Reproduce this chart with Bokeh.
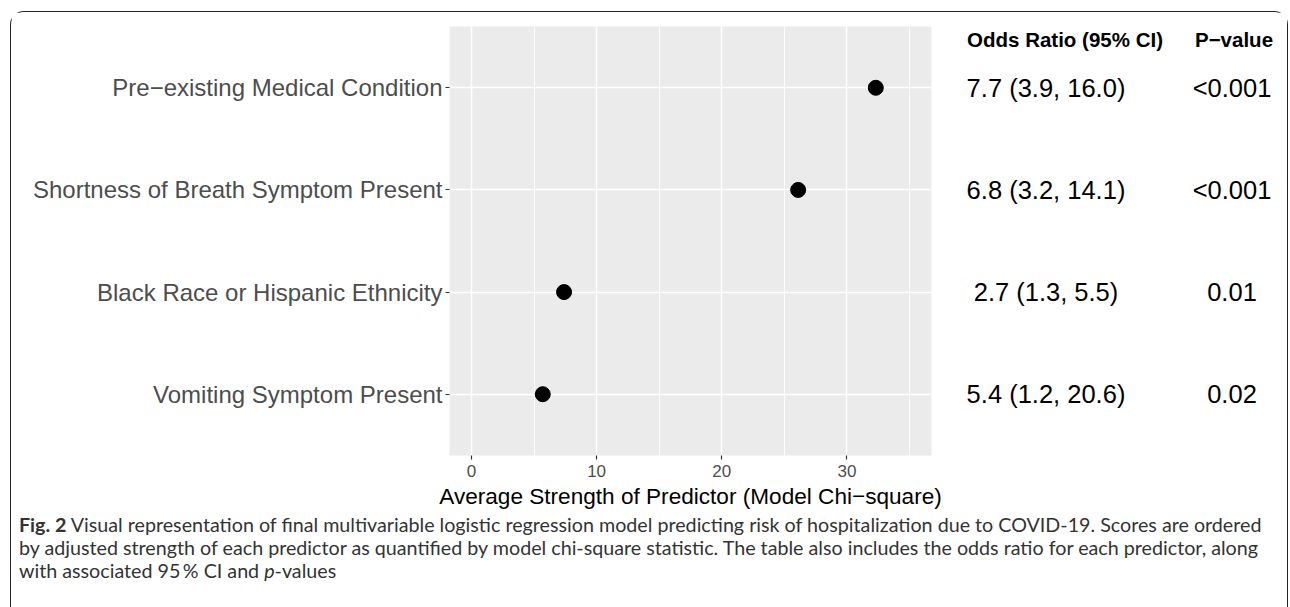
from bokeh.plotting import figure
from bokeh.models import (ColumnDataSource, FactorRange, Range1d, SingleIntervalTicker, Div)
from bokeh.layouts import column, row
from bokeh.core.properties import value
from bokeh.embed import file_html
from bokeh.resources import INLINE

# ---- data ----
predictors = ["Pre\u2212existing Medical Condition",
              "Shortness of Breath Symptom Present",
              "Black Race or Hispanic Ethnicity",
              "Vomiting Symptom Present"]
chi_square = [32.3, 26.1, 7.4, 5.7]
odds_ratio = ["7.7 (3.9, 16.0)", "6.8 (3.2, 14.1)", "2.7 (1.3, 5.5)", "5.4 (1.2, 20.6)"]
p_values = ["<0.001", "<0.001", "0.01", "0.02"]
x_ticks = [0, 10, 20, 30]
table_headers = ["Odds Ratio (95% CI)", "P\u2212value"]

# ---- layout constants (content coords; content origin at page (11.5, 12.5)) ----
OX, OY = 11.5, 12.5
W = 1276
H_TOP = 500
MAIN_W = 950
FL, FW = 438, 482
FT, FH = 14, 429

src = ColumnDataSource(dict(pred=predictors, chi=chi_square, orr=odds_ratio, pv=p_values))
yr = FactorRange(factors=predictors[::-1], range_padding=0.1, range_padding_units="absolute")

p = figure(width=MAIN_W, height=H_TOP, output_backend="svg", toolbar_location=None,
           y_range=yr, x_range=Range1d(-1.75, 36.75),
           min_border_left=FL, min_border_right=MAIN_W - FL - FW,
           min_border_top=FT, min_border_bottom=H_TOP - FT - FH)
p.background_fill_color = "#EBEBEB"
p.border_fill_color = "white"
p.outline_line_color = None

p.xgrid.ticker = SingleIntervalTicker(interval=10, num_minor_ticks=2)
p.xgrid.grid_line_color = "white"
p.xgrid.grid_line_width = 1.5
p.xgrid.minor_grid_line_color = "white"
p.xgrid.minor_grid_line_width = 0.9
p.ygrid.grid_line_color = "white"
p.ygrid.grid_line_width = 1.5

p.xaxis.ticker = x_ticks
p.xaxis.axis_line_color = None
p.yaxis.axis_line_color = None
for ax in (p.xaxis[0], p.yaxis[0]):
    ax.major_tick_line_color = "#333333"
    ax.major_tick_line_width = 1.2
    ax.major_tick_in = 0
    ax.major_tick_out = 4
    ax.minor_tick_line_color = None
    ax.major_label_text_font = "Liberation Sans"
    ax.major_label_text_color = "#4D4D4D"
p.yaxis.major_label_text_font_size = "24px"
p.yaxis.major_label_standoff = 3
p.xaxis.major_label_text_font_size = "17px"
p.xaxis.major_label_standoff = 5
p.xaxis.axis_label = "Average Strength of Predictor (Model Chi\u2212square)"
p.xaxis.axis_label_text_font = "Liberation Sans"
p.xaxis.axis_label_text_font_style = "normal"
p.xaxis.axis_label_text_font_size = "22.6px"
p.xaxis.axis_label_text_color = "black"
p.xaxis.axis_label_standoff = 4

p.scatter("chi", "pred", source=src, size=15, color="black")

# ---- table panel (x expressed in page pixels) ----
tx0 = OX + MAIN_W
t = figure(width=W - MAIN_W, height=H_TOP, output_backend="svg", toolbar_location=None,
           y_range=yr, x_range=Range1d(tx0, tx0 + W - MAIN_W),
           min_border_left=0, min_border_right=0,
           min_border_top=FT, min_border_bottom=H_TOP - FT - FH)
t.axis.visible = False
t.grid.visible = False
t.outline_line_color = None
t.background_fill_color = "white"
t.border_fill_color = "white"
t.text(x=1046, y="pred", text="orr", source=src, text_align="center", text_baseline="middle",
       text_font=value("Liberation Sans"), text_font_size="25.5px", text_color="black")
t.text(x=1232, y="pred", text="pv", source=src, text_align="center", text_baseline="middle",
       text_font=value("Liberation Sans"), text_font_size="25.5px", text_color="black")
hdr = ColumnDataSource(dict(x=[1065, 1234], y=[predictors[0]] * 2, text=table_headers))
t.text(x="x", y="y", text="text", source=hdr, y_offset=-48, text_align="center",
       text_baseline="middle", text_font=value("Liberation Sans"), text_font_style="bold",
       text_font_size="20.5px", text_color="black")

# ---- caption ----
cap_html = (
    "<div style='font-family:Lato, sans-serif; font-size:19.7px; line-height:23px; "
    "color:#333; white-space:nowrap; padding-left:8px; padding-top:1px; margin:0;'>"
    "<b>Fig. 2</b> Visual representation of final multivariable logistic regression model "
    "predicting risk of hospitalization due to COVID-19. Scores are ordered<br>"
    "by adjusted strength of each predictor as quantified by model chi-square statistic. "
    "The table also includes the odds ratio for each predictor, along<br>"
    "with associated 95\u2009% CI and <i>p</i>-values</div>"
)
cap = Div(text=cap_html, width=W, height=600 - H_TOP,
          styles={"margin": "0", "padding": "0"})

layout = column(row(p, t), cap,
                styles={"border-top": "1.5px solid #222", "border-left": "1.5px solid #222",
                        "border-right": "1.5px solid #222", "border-bottom": "0px none",
                        "border-radius": "14px 14px 0 0",
                        "margin-left": "10px", "margin-top": "11px"})

open("out.html", "w").write(file_html(layout, INLINE))
